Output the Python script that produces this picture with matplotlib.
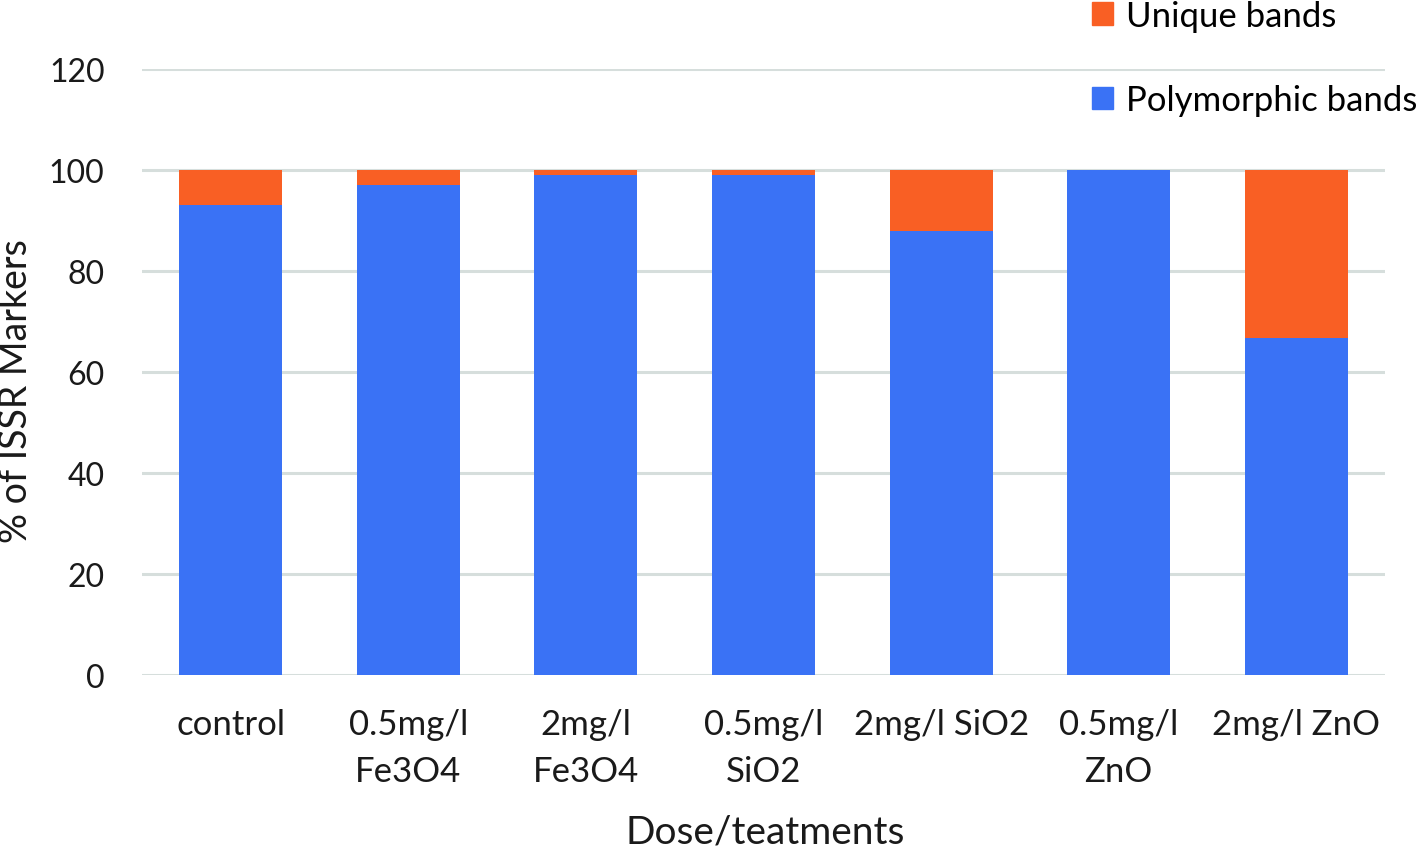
import matplotlib
matplotlib.use("Agg")
import matplotlib.pyplot as plt
from matplotlib.patches import Patch

categories = ["control", "0.5mg/l\nFe3O4", "2mg/l\nFe3O4", "0.5mg/l\nSiO2",
              "2mg/l SiO2", "0.5mg/l\nZnO", "2mg/l ZnO"]
polymorphic = [93, 97, 99, 99, 88, 100, 66.7]
unique = [7, 3, 1, 1, 12, 0, 33.3]
yticks = [0, 20, 40, 60, 80, 100, 120]

blue = "#3A72F5"
orange = "#F95F24"
grid_c = "#D6DEDC"
txt_c = "#1a1a1a"

plt.rcParams['font.family'] = ['Lato', 'DejaVu Sans']

fig = plt.figure(figsize=(14.18, 8.53), dpi=100)
ax = fig.add_axes([142/1418, 1-676/853, (1385-142)/1418, (676-70)/853])

x = list(range(len(categories)))
ax.bar(x, polymorphic, width=0.58, color=blue, zorder=3, label="Polymorphic bands")
ax.bar(x, unique, width=0.58, bottom=polymorphic, color=orange, zorder=3, label="Unique bands")

ax.set_xlim(-0.5, len(categories) - 0.5)
ax.set_ylim(0, 120)
ax.set_yticks(yticks)
ax.yaxis.grid(True, color=grid_c, linewidth=2.2, zorder=0)
ax.set_axisbelow(True)
for s in ax.spines.values():
    s.set_visible(False)
ax.tick_params(axis='y', length=0, labelsize=23, colors=txt_c, pad=27)
ax.tick_params(axis='x', length=0, labelsize=25, colors=txt_c, pad=24)
ax.set_xticks(x)
ax.set_xticklabels(categories, linespacing=1.55)

fig.text(16/1418, 1-391/853, "% of ISSR Markers", rotation=90, ha='center', va='center',
         fontsize=27, color=txt_c)
fig.text(765/1418, 1-833/853, "Dose/teatments", ha='center', va='center',
         fontsize=28, color=txt_c)

handles = [Patch(color=orange, label="Unique bands"), Patch(color=blue, label="Polymorphic bands")]
fig.legend(handles=handles, loc='upper left', bbox_to_anchor=(1078/1418, 1 + 13/853),
           frameon=False, fontsize=25, handlelength=0.62, handleheight=0.62,
           handletextpad=0.35, labelspacing=1.5, borderaxespad=0)

fig.savefig("out.png", dpi=100)
